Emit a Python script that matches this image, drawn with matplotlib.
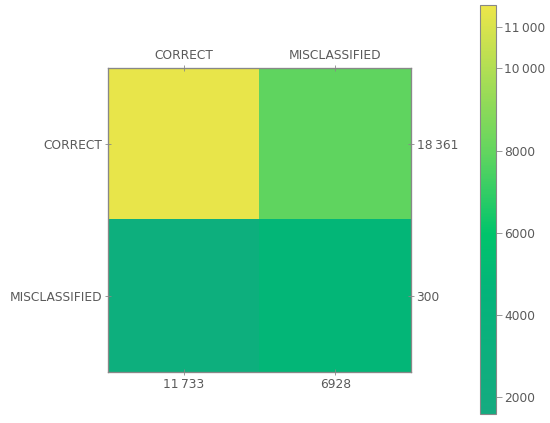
import numpy as np
import matplotlib
matplotlib.use("Agg")
import matplotlib.pyplot as plt
from matplotlib.colors import LinearSegmentedColormap, Normalize

classes = ["CORRECT", "MISCLASSIFIED"]
counts = np.array([[11433, 6928],
                   [300, 0]])
# shade values
shade = np.array([[11400, 7900],
                  [3000, 4800]])
row_totals = ["18\u2009361", "300"]
col_totals = ["11\u2009733", "6928"]
cbar_ticks = [2000, 4000, 6000, 8000, 10000, 11000]
cbar_labels = ["2000", "4000", "6000", "8000", "10\u2009000", "11\u2009000"]
vmin, vmax = 1590, 11540

cmap = LinearSegmentedColormap.from_list(
    "cm", [(0.0, "#15ab80"), (0.30, "#04b47a"), (0.44, "#00c46b"),
           (0.64, "#62d55f"), (0.82, "#a8dd55"), (1.0, "#ede64a")])
norm = Normalize(vmin=vmin, vmax=vmax)

txt = "#5a5a5a"
edge = "#888888"
fs = 8.8

fig = plt.figure(figsize=(5.5, 4.23), dpi=100)
ax = fig.add_axes([108 / 550, 1 - 372 / 423, 303 / 550, 304 / 423])
ax.imshow(shade, cmap=cmap, norm=norm, aspect="auto")

ax.set_xticks(range(2))
ax.set_xticklabels(col_totals)
ax.set_yticks(range(2))
ax.set_yticklabels(classes)

axt = ax.twiny()
axt.set_xlim(ax.get_xlim())
axt.set_xticks(range(2))
axt.set_xticklabels(classes)

axr = ax.twinx()
axr.set_ylim(ax.get_ylim())
axr.set_yticks(range(2))
axr.set_yticklabels(row_totals)

for a in (ax, axt, axr):
    a.tick_params(direction="inout", length=4, width=0.6, color=edge,
                  labelcolor=txt, labelsize=fs, pad=2)
    for s in a.spines.values():
        s.set_color(edge)
        s.set_linewidth(0.8)

cax = fig.add_axes([480 / 550, 1 - 414 / 423, 16 / 550, 409 / 423])
sm = plt.cm.ScalarMappable(norm=norm, cmap=cmap)
cb = fig.colorbar(sm, cax=cax)
cb.set_ticks(cbar_ticks)
cb.set_ticklabels(cbar_labels)
cb.outline.set_edgecolor(edge)
cb.outline.set_linewidth(0.8)
cax.tick_params(direction="out", length=4, width=0.6, color=edge,
                labelcolor=txt, labelsize=fs, pad=2)

fig.savefig("out.png", dpi=100)
